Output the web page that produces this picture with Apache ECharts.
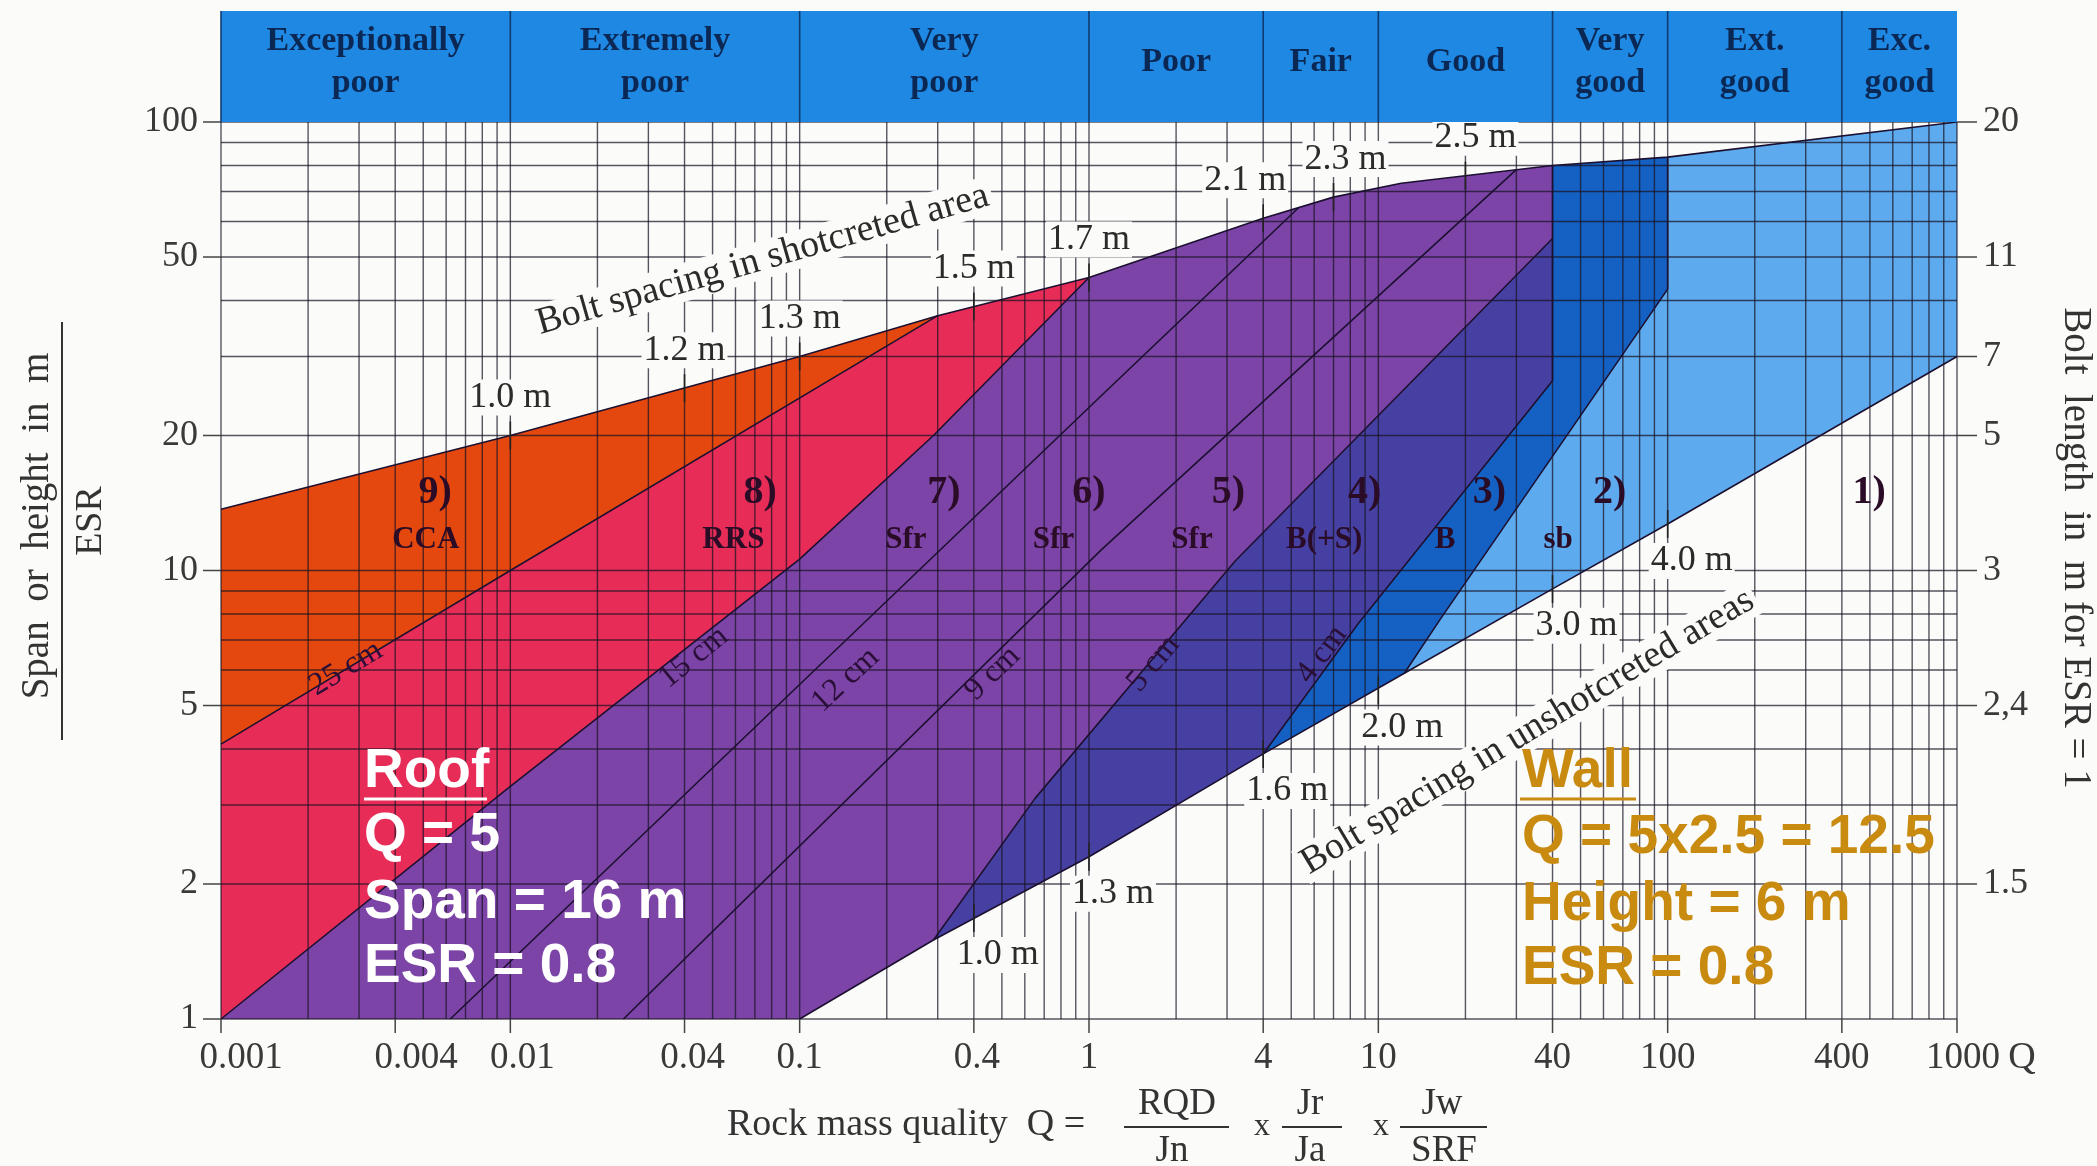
<!DOCTYPE html>
<html><head><meta charset="utf-8">
<script src="https://cdn.jsdelivr.net/npm/echarts@6/dist/echarts.min.js"></script>
<style>html,body{margin:0;padding:0;background:#fbfbf9}#c{width:2097px;height:1166px}</style>
</head><body><div id="c"></div>
<script>
// ---------- data ----------
const qualityClasses = ['Exceptionally\npoor','Extremely\npoor','Very\npoor','Poor','Fair','Good','Very\ngood','Ext.\ngood','Exc.\ngood'];
const qualityBounds = [0.001,0.01,0.1,1,4,10,40,100,400,1000];

const xTicks = [0.001,0.004,0.01,0.04,0.1,0.4,1,4,10,40,100,400,1000];
const xTickLabels = ['0.001','0.004','0.01','0.04','0.1','0.4','1','4','10','40','100','400','1000'];
const yTicks = [1,2,5,10,20,50,100];
const yTickLabels = ['1','2','5','10','20','50','100'];
const boltLengthAt = [2,5,10,20,30,50,100];
const boltLengthLabels = ['1.5','2,4','3','5','7','11','20'];
const gridMantissas = [1,2,3,4,5,6,7,8,9];

// boundary lines: [Q, span/ESR]
const topEnvelope = [[0.001,13.7],[0.01,20],[0.1,30],[0.3,37],[1,45],[4,61],[7,68],[12,73],[40,80],[100,83.5],[1000,100]];
const lowEnvelope = [[0.1,1],[0.29,1.5],[1,2.3],[4,3.9],[12.3,5.9],[40,9.1],[100,12.7],[1000,30]];
const line25cm = [[0.001,4.1],[0.01,10],[0.3,37]];
const line15cm = [[0.001,1],[0.01,3.3],[0.1,10.6],[0.29,20],[1,45]];
const line12cm = [[0.0062,1],[1.1,24.5],[5.3,64.4]];
const line9cm  = [[0.0246,1],[1.1,11.1],[30,78.3]];
const line5cm  = [[0.29,1.5],[0.65,3.1],[3.2,10.5],[40,55]];
const line4cm  = [[4,3.9],[8.5,7.6],[40,26.5]];
const lineSb   = [[12.3,5.9],[16.4,7.8],[100,42.4]];

// bolt spacing marks on the envelopes
const shotQ = [0.01,0.04,0.1,0.4,1,4,7,20];
const shotS = [20,25.5,30,38.8,45,61,68,75.9];
const shotLabels = ['1.0 m','1.2 m','1.3 m','1.5 m','1.7 m','2.1 m','2.3 m','2.5 m'];
const unshotQ = [0.4,1,4,10,40,100];
const unshotS = [1.68,2.3,3.9,5.4,9.1,12.7];
const unshotLabels = ['1.0 m','1.3 m','1.6 m','2.0 m','3.0 m','4.0 m'];

// support category labels
const catNumQ = [0.0055,0.073,0.315,1.0,3.03,8.97,24.2,63,497];
const catNumS = [14.9,14.9,14.9,14.9,14.9,14.9,14.9,14.9,14.9];
const catNums = ['9)','8)','7)','6)','5)','4)','3)','2)','1)'];
const catCodeQ = [0.0051,0.059,0.233,0.754,2.27,6.5,17.0,41.8];
const catCodeS = [11.7,11.7,11.7,11.7,11.7,11.7,11.7,11.7];
const catCodes = ['CCA','RRS','Sfr','Sfr','Sfr','B(+S)','B','sb'];

// shotcrete thickness labels on the lines
const cmQ = [0.0027,0.043,0.144,0.464,1.67,6.38];
const cmS = [6.05,6.4,5.7,5.9,6.2,6.5];
const cmLabels = ['25 cm','15 cm','12 cm','9 cm','5 cm','4 cm'];
const cmRotate = [31,39,43,44,50,53];

const lineTextQ = [0.0745,32.8];
const lineTextS = [49.3,4.37];
const lineTexts = ['Bolt spacing in shotcreted area','Bolt spacing in unshotcreted areas'];
const lineTextRotate = [16,31];

// ---------- construction ----------
const rev = a => a.slice().reverse();
const between = (line, qa, qb) => line.filter(p => p[0] >= qa && p[0] <= qb);
const cat = (...parts) => [].concat(...parts);

const C = {cca:'#e4480f', rrs:'#e72c58', sfr:'#7c44a6', bs:'#4640a2', b:'#1561c3', sb:'#5eaaee'};
const regions = [
  {color:C.cca, pts:cat(between(topEnvelope,0.001,0.3), rev(line25cm))},
  {color:C.rrs, pts:cat(line25cm, between(topEnvelope,0.3,1), rev(line15cm))},
  {color:C.sfr, pts:cat(line15cm, between(topEnvelope,1,40), rev(line5cm), rev(between(lowEnvelope,0.1,0.29)))},
  {color:C.bs,  pts:cat(line5cm, rev(line4cm), rev(between(lowEnvelope,0.29,4)))},
  {color:C.b,   pts:cat(line4cm, between(topEnvelope,40,100), rev(lineSb), rev(between(lowEnvelope,4,12.3)))},
  {color:C.sb,  pts:cat(lineSb, between(topEnvelope,100,1000), rev(between(lowEnvelope,12.3,1000)))}
];
const col40 = [line4cm[line4cm.length-1], between(topEnvelope,40,40)[0]];
const col100 = [lineSb[lineSb.length-1], between(topEnvelope,100,100)[0]];

const xGrid = [], yGrid = [];
for (let e = -3; e <= 2; e++) gridMantissas.forEach(m => xGrid.push(Number((m*Math.pow(10,e)).toPrecision(3))));
xGrid.push(1000);
for (let e = 0; e <= 1; e++) gridMantissas.forEach(m => yGrid.push(Number((m*Math.pow(10,e)).toPrecision(3))));
yGrid.push(100);

// label styling
const xTickLabelShift = [20,21,12,8,0,3,0,0,0,0,0,0,6];
const shotLabelShift = [0,0,0,0,0,-18,12,10];
const SERIF = '"Liberation Serif", "Times New Roman", serif';
const SANS = '"Liberation Sans", Arial, sans-serif';
const BG = '#fbfbf9';

function txt(x, y, text, font, fill, align, valign, extra) {
  return Object.assign({type:'text', x:x, y:y, style:Object.assign({text:text, font:font, fill:fill,
    align:align, textAlign:align, verticalAlign:valign, textVerticalAlign:valign}, (extra||{}).style || {})},
    (extra||{}).el || {});
}

function textLayer(qs, ss, texts, opt) {
  return {
    type:'custom', z:opt.z || 6, silent:true, clip:false,
    data: qs.map((q,i) => [q, ss[i]]),
    renderItem: (params, api) => {
      const i = params.dataIndex;
      const p = api.coord([api.value(0), api.value(1)]);
      const rot = Array.isArray(opt.rotate) ? opt.rotate[i] : (opt.rotate || 0);
      const dx = Array.isArray(opt.dx) ? opt.dx[i] : (opt.dx || 0);
      const st = {text:texts[i], font:opt.font, fill:opt.fill, align:opt.align||'center', textAlign:opt.align||'center',
        verticalAlign:'middle', textVerticalAlign:'middle'};
      if (opt.bg) { st.backgroundColor = opt.bg; st.padding = opt.pad || [0,3]; }
      return {type:'text', x:p[0]+dx, y:p[1]+(opt.dy||0), rotation:rot*Math.PI/180, style:st};
    }
  };
}

function boundary(data, color, width) {
  return {type:'line', data:data, symbol:'none', silent:true, z:4, animation:false,
    lineStyle:{color:color||'#1c1030', width:width||1.6}};
}

const series = [];
// filled support regions
series.push({
  type:'custom', z:1, silent:true, clip:false,
  data: regions.map(() => [1,1]),
  renderItem: (params, api) => {
    const r = regions[params.dataIndex];
    return {type:'polygon', shape:{points:r.pts.map(p => api.coord(p))}, style:{fill:r.color}};
  }
});
// log grid
series.push({
  type:'custom', z:2, silent:true, clip:false,
  data: xGrid.map(q => [q,1]),
  renderItem: (params, api) => {
    const a = api.coord([api.value(0),1]), b = api.coord([api.value(0),100]);
    return {type:'line', shape:{x1:a[0],y1:a[1],x2:b[0],y2:b[1]}, style:{stroke:'rgba(25,20,35,0.72)', lineWidth:1.4}};
  }
});
series.push({
  type:'custom', z:2, silent:true, clip:false,
  data: yGrid.map(s => [1,s]),
  renderItem: (params, api) => {
    const a = api.coord([0.001,api.value(1)]), b = api.coord([1000,api.value(1)]);
    return {type:'line', shape:{x1:a[0],y1:a[1],x2:b[0],y2:b[1]}, style:{stroke:'rgba(25,20,35,0.72)', lineWidth:1.4}};
  }
});
// boundaries
[topEnvelope, lowEnvelope, line25cm, line15cm, line12cm, line9cm, line5cm, line4cm, lineSb, col40, col100]
  .forEach(l => series.push(boundary(l)));

// bolt-spacing tick marks on the envelopes
function envTicks(qs, ss) {
  return {type:'custom', z:7, silent:true, clip:false, data: qs.map((q,i)=>[q,ss[i]]),
    renderItem: (params, api) => {
      const p = api.coord([api.value(0), api.value(1)]);
      return {type:'line', shape:{x1:p[0],y1:p[1]-14,x2:p[0],y2:p[1]+14}, style:{stroke:'#222', lineWidth:1.6}};
    }};
}
series.push(envTicks(shotQ, shotS), envTicks(unshotQ, unshotS));
series.push(textLayer(shotQ, shotS, shotLabels, {font:'36px '+SERIF, fill:'#2b2b2b', dx:shotLabelShift, dy:-38, bg:BG, pad:[0,2]}));
series.push(textLayer(unshotQ, unshotS, unshotLabels, {font:'36px '+SERIF, fill:'#2b2b2b', dx:24, dy:37, bg:BG, pad:[0,2]}));
series.push(textLayer(lineTextQ, lineTextS, lineTexts, {font:'38px '+SERIF, fill:'#2b2b2b', rotate:lineTextRotate, bg:BG, pad:[0,4]}));
series.push(textLayer(cmQ, cmS, cmLabels, {font:'32px '+SERIF, fill:'#2a0f38', rotate:cmRotate}));
series.push(textLayer(catNumQ, catNumS, catNums, {font:'bold 40px '+SERIF, fill:'#2a0c26'}));
series.push(textLayer(catCodeQ, catCodeS, catCodes, {font:'bold 31px '+SERIF, fill:'#2a0c26'}));

// axes: bottom
series.push({type:'custom', z:5, silent:true, clip:false, data: xTicks.map(q=>[q,1]),
  renderItem: (params, api) => {
    const p = api.coord([api.value(0),1]);
    const i = params.dataIndex;
    return {type:'group', children:[
      {type:'line', shape:{x1:p[0],y1:p[1],x2:p[0],y2:p[1]+14}, style:{stroke:'#444', lineWidth:1.5}},
      txt(p[0]+xTickLabelShift[i], p[1]+39, xTickLabels[i], '37px '+SERIF, '#3a3a3a', 'center', 'middle')
    ]};
  }});
// left
series.push({type:'custom', z:5, silent:true, clip:false, data: yTicks.map(s=>[0.001,s]),
  renderItem: (params, api) => {
    const p = api.coord([0.001, api.value(1)]);
    return {type:'group', children:[
      {type:'line', shape:{x1:p[0]-18,y1:p[1],x2:p[0],y2:p[1]}, style:{stroke:'#444', lineWidth:1.5}},
      txt(p[0]-23, p[1], yTickLabels[params.dataIndex], '36px '+SERIF, '#3a3a3a', 'right', 'middle')
    ]};
  }});
// right (bolt length)
series.push({type:'custom', z:5, silent:true, clip:false, data: boltLengthAt.map(s=>[1000,s]),
  renderItem: (params, api) => {
    const p = api.coord([1000, api.value(1)]);
    return {type:'group', children:[
      {type:'line', shape:{x1:p[0],y1:p[1],x2:p[0]+20,y2:p[1]}, style:{stroke:'#444', lineWidth:1.5}},
      txt(p[0]+26, p[1], boltLengthLabels[params.dataIndex], '36px '+SERIF, '#3a3a3a', 'left', 'middle')
    ]};
  }});
// header band of quality classes
series.push({type:'custom', z:8, silent:true, clip:false,
  data: qualityClasses.map((c,i) => [qualityBounds[i], 100]),
  renderItem: (params, api) => {
    const i = params.dataIndex;
    const p0 = api.coord([qualityBounds[i],100]), p1 = api.coord([qualityBounds[i+1],100]);
    const H = 111;
    return {type:'group', children:[
      {type:'rect', shape:{x:p0[0], y:p0[1]-H, width:p1[0]-p0[0], height:H}, style:{fill:'#1f88e2'}},
      {type:'line', shape:{x1:p0[0],y1:p0[1]-H,x2:p0[0],y2:p0[1]}, style:{stroke:'#103c72', lineWidth:1.6}},
      txt((p0[0]+p1[0])/2, p0[1]-60, qualityClasses[i], 'bold 34px '+SERIF, '#0b2855', 'center', 'middle', {style:{lineHeight:42}})
    ]};
  }});

const option = {
  backgroundColor: BG,
  animation: false,
  grid: {left:221, top:122, width:1736, height:897},
  xAxis: {type:'log', logBase:10, min:0.001, max:1000, show:false},
  yAxis: {type:'log', logBase:10, min:1, max:100, show:false},
  series: series,
  graphic: [
    // left axis title
    {type:'text', x:38, y:526, rotation:Math.PI/2, style:{text:'Span  or  height  in  m', font:'39px '+SERIF, fill:'#333', textAlign:'center', textVerticalAlign:'middle'}},
    {type:'line', shape:{x1:62,y1:322,x2:62,y2:740}, style:{stroke:'#333', lineWidth:2}},
    {type:'text', x:91, y:521, rotation:Math.PI/2, style:{text:'ESR', font:'38px '+SERIF, fill:'#333', textAlign:'center', textVerticalAlign:'middle'}},
    // right axis title
    {type:'text', x:2075, y:548, rotation:-Math.PI/2, style:{text:'Bolt  length  in  m for ESR = 1', font:'39px '+SERIF, fill:'#333', textAlign:'center', textVerticalAlign:'middle'}},
    // Q suffix
    {type:'text', x:2022, y:1058, style:{text:'Q', font:'38px '+SERIF, fill:'#3a3a3a', textAlign:'center', textVerticalAlign:'middle'}},
    // bottom title
    {type:'text', x:727, y:1125, style:{text:'Rock mass quality  Q =', font:'38px '+SERIF, fill:'#333', textAlign:'left', textVerticalAlign:'middle'}},
    {type:'text', x:1177, y:1104, style:{text:'RQD', font:'37px '+SERIF, fill:'#333', textAlign:'center', textVerticalAlign:'middle'}},
    {type:'line', shape:{x1:1124,y1:1127,x2:1229,y2:1127}, style:{stroke:'#333', lineWidth:2}},
    {type:'text', x:1172, y:1151, style:{text:'Jn', font:'37px '+SERIF, fill:'#333', textAlign:'center', textVerticalAlign:'middle'}},
    {type:'text', x:1262, y:1127, style:{text:'x', font:'32px '+SERIF, fill:'#333', textAlign:'center', textVerticalAlign:'middle'}},
    {type:'text', x:1310, y:1104, style:{text:'Jr', font:'37px '+SERIF, fill:'#333', textAlign:'center', textVerticalAlign:'middle'}},
    {type:'line', shape:{x1:1282,y1:1127,x2:1342,y2:1127}, style:{stroke:'#333', lineWidth:2}},
    {type:'text', x:1310, y:1151, style:{text:'Ja', font:'37px '+SERIF, fill:'#333', textAlign:'center', textVerticalAlign:'middle'}},
    {type:'text', x:1381, y:1127, style:{text:'x', font:'32px '+SERIF, fill:'#333', textAlign:'center', textVerticalAlign:'middle'}},
    {type:'text', x:1442, y:1104, style:{text:'Jw', font:'37px '+SERIF, fill:'#333', textAlign:'center', textVerticalAlign:'middle'}},
    {type:'line', shape:{x1:1400,y1:1127,x2:1487,y2:1127}, style:{stroke:'#333', lineWidth:2}},
    {type:'text', x:1444, y:1151, style:{text:'SRF', font:'37px '+SERIF, fill:'#333', textAlign:'center', textVerticalAlign:'middle'}},
    // Roof annotation
    {type:'text', x:364, y:772, z:20, style:{text:'Roof', font:'bold 55px '+SANS, fill:'#ffffff', textAlign:'left', textVerticalAlign:'middle'}},
    {type:'line', z:20, shape:{x1:364,y1:799,x2:487,y2:799}, style:{stroke:'#ffffff', lineWidth:3}},
    {type:'text', x:364, y:836, z:20, style:{text:'Q = 5', font:'bold 55px '+SANS, fill:'#ffffff', textAlign:'left', textVerticalAlign:'middle'}},
    {type:'text', x:364, y:903, z:20, style:{text:'Span = 16 m', font:'bold 55px '+SANS, fill:'#ffffff', textAlign:'left', textVerticalAlign:'middle'}},
    {type:'text', x:364, y:967, z:20, style:{text:'ESR = 0.8', font:'bold 55px '+SANS, fill:'#ffffff', textAlign:'left', textVerticalAlign:'middle'}},
    // Wall annotation
    {type:'text', x:1522, y:772, z:20, style:{text:'Wall', font:'bold 55px '+SANS, fill:'#c98a10', textAlign:'left', textVerticalAlign:'middle'}},
    {type:'line', z:20, shape:{x1:1520,y1:799,x2:1636,y2:799}, style:{stroke:'#c98a10', lineWidth:3}},
    {type:'text', x:1522, y:838, z:20, style:{text:'Q = 5x2.5 = 12.5', font:'bold 55px '+SANS, fill:'#c98a10', textAlign:'left', textVerticalAlign:'middle'}},
    {type:'text', x:1522, y:905, z:20, style:{text:'Height = 6 m', font:'bold 55px '+SANS, fill:'#c98a10', textAlign:'left', textVerticalAlign:'middle'}},
    {type:'text', x:1522, y:969, z:20, style:{text:'ESR = 0.8', font:'bold 55px '+SANS, fill:'#c98a10', textAlign:'left', textVerticalAlign:'middle'}}
  ]
};
const chart = echarts.init(document.getElementById('c'), null, {renderer:'canvas'});
chart.setOption(option);
</script></body></html>
